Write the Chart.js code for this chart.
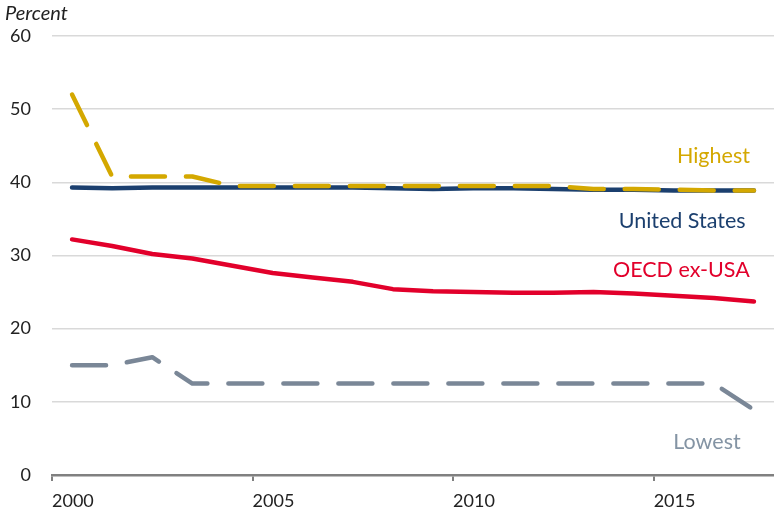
<!DOCTYPE html>
<html lang="en">
<head>
    <meta charset="UTF-8">
    <title>Percent</title>
    <style>
        body { margin: 0; background: #fff; }
        #wrap { width: 774px; height: 517px; position: relative; }
    </style>
</head>
<body>
    <div id="wrap">
        <canvas id="myChart"></canvas>
    </div>
    <script src="https://cdn.jsdelivr.net/npm/chart.js"></script>
    <script>
        // annual values, plotted at mid-year
        const years = [2000, 2001, 2002, 2003, 2004, 2005, 2006, 2007, 2008, 2009,
                       2010, 2011, 2012, 2013, 2014, 2015, 2016, 2017];
        const highest = [52.0, 40.8, 40.8, 40.8, 39.5, 39.5, 39.5, 39.5, 39.5, 39.5,
                         39.5, 39.5, 39.5, 39.1, 39.1, 39.0, 38.9, 38.9];
        const unitedStates = [39.3, 39.2, 39.3, 39.3, 39.3, 39.3, 39.3, 39.3, 39.2, 39.1,
                              39.2, 39.2, 39.1, 39.0, 39.0, 38.9, 38.9, 38.9];
        const oecdExUsa = [32.2, 31.3, 30.2, 29.6, 28.6, 27.6, 27.0, 26.4, 25.4, 25.1,
                           25.0, 24.9, 24.9, 25.0, 24.8, 24.5, 24.2, 23.7];
        const lowest = [15.0, 15.0, 16.1, 12.5, 12.5, 12.5, 12.5, 12.5, 12.5, 12.5,
                        12.5, 12.5, 12.5, 12.5, 12.5, 12.5, 12.5, 8.9];
        const xTicks = [2000, 2005, 2010, 2015];

        const seriesNames = ['Highest', 'United States', 'OECD ex-USA', 'Lowest'];
        const seriesColors = ['#D4A800', '#1B3F6E', '#E2002B', '#7A8797'];
        const labelColors = ['#D4A800', '#1B3F6E', '#E2002B', '#8494A4'];
        // where each series name sits, in data units
        const labelX = [2016.49, 2015.71, 2015.69, 2016.33];
        const labelY = [42.6, 33.7, 27.0, 3.55];

        const FONT = 'Lato, "Noto Sans", sans-serif';

        function pts(arr) {
            return arr.map((v, i) => ({ x: years[i] + 0.5, y: v }));
        }

        const seriesLabels = {
            id: 'seriesLabels',
            afterDatasetsDraw(chart) {
                const c = chart.ctx;
                const xs = chart.scales.x, ys = chart.scales.y;
                c.save();
                c.font = '21.5px ' + FONT;
                c.textAlign = 'center';
                c.textBaseline = 'alphabetic';
                for (let i = 0; i < seriesNames.length; i++) {
                    c.fillStyle = labelColors[i];
                    c.fillText(seriesNames[i], xs.getPixelForValue(labelX[i]), ys.getPixelForValue(labelY[i]));
                }
                c.font = 'italic 20px ' + FONT;
                c.textAlign = 'left';
                c.fillStyle = '#222';
                c.fillText('Percent', 5, 20);
                c.restore();
            }
        };

        const ctx = document.getElementById('myChart');
        new Chart(ctx, {
            type: 'line',
            data: {
                datasets: [{
                    label: seriesNames[0],
                    data: pts(highest),
                    borderColor: seriesColors[0],
                    borderWidth: 4.5,
                    borderDash: [34, 21],
                    borderCapStyle: 'round',
                    borderJoinStyle: 'round'
                }, {
                    label: seriesNames[1],
                    data: pts(unitedStates),
                    borderColor: seriesColors[1],
                    borderWidth: 4.5,
                    borderCapStyle: 'round',
                    borderJoinStyle: 'round'
                }, {
                    label: seriesNames[2],
                    data: pts(oecdExUsa),
                    borderColor: seriesColors[2],
                    borderWidth: 4.5,
                    borderCapStyle: 'round',
                    borderJoinStyle: 'round'
                }, {
                    label: seriesNames[3],
                    data: pts(lowest),
                    borderColor: seriesColors[3],
                    borderWidth: 4.5,
                    borderDash: [34, 21],
                    borderCapStyle: 'round',
                    borderJoinStyle: 'round'
                }]
            },
            options: {
                responsive: true,
                maintainAspectRatio: false,
                animation: false,
                layout: { padding: { top: 36, right: 0, left: 0, bottom: 0 } },
                elements: { point: { radius: 0 }, line: { tension: 0 } },
                scales: {
                    x: {
                        type: 'linear',
                        min: 2000,
                        max: 2018,
                        afterBuildTicks: (s) => { s.ticks = xTicks.map(v => ({ value: v })); },
                        afterFit: (s) => { s.height = 42; },
                        grid: { drawOnChartArea: false, drawTicks: true, tickLength: 6, color: '#808080', lineWidth: 2 },
                        border: { display: true, color: '#808080', width: 2.5 },
                        ticks: {
                            align: 'start',
                            padding: 9,
                            color: '#222',
                            font: { family: FONT, size: 18 },
                            maxRotation: 0,
                            callback: (v) => String(v)
                        }
                    },
                    y: {
                        min: 0,
                        max: 60,
                        afterFit: (s) => { s.width = 52; },
                        grid: {
                            drawTicks: false,
                            color: (c) => c.tick && c.tick.value === 0 ? 'rgba(0,0,0,0)' : '#D9D9D9',
                            lineWidth: 1.5
                        },
                        border: { display: false },
                        ticks: {
                            stepSize: 10,
                            padding: 21,
                            color: '#222',
                            font: { family: FONT, size: 18 }
                        }
                    }
                },
                plugins: {
                    legend: { display: false },
                    tooltip: { enabled: false }
                }
            },
            plugins: [seriesLabels]
        });
    </script>
</body>
</html>
